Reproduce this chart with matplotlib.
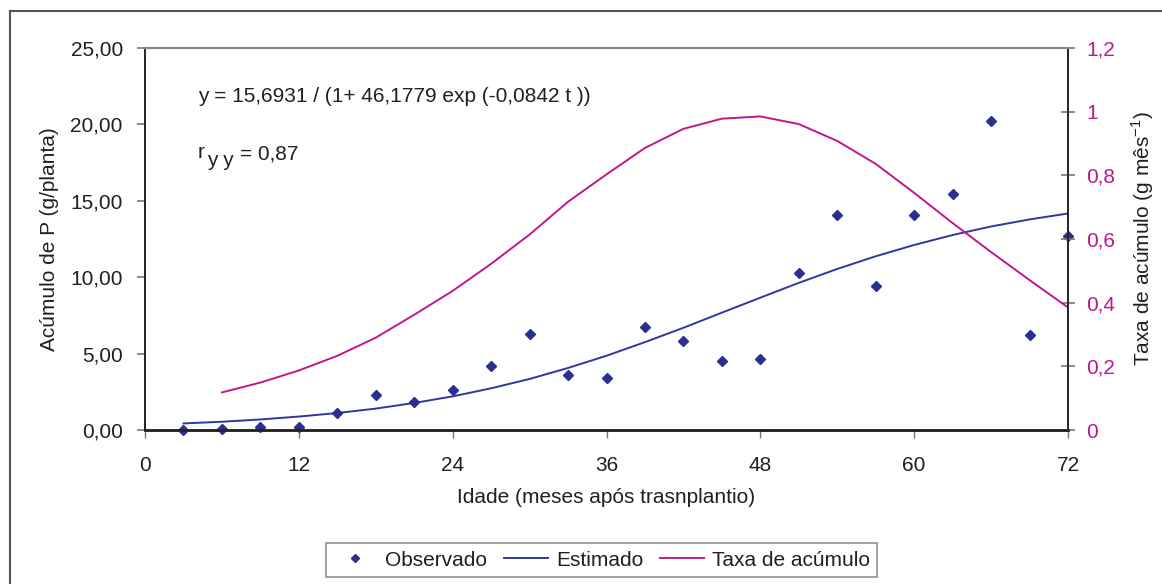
import matplotlib
matplotlib.use("Agg")
import matplotlib.pyplot as plt
from matplotlib.lines import Line2D

plt.rcParams['font.family'] = ['Liberation Sans', 'DejaVu Sans']

# Data
t_obs = [3, 6, 9, 12, 15, 18, 21, 24, 27, 30, 33, 36, 39, 42, 45, 48, 51, 54, 57, 60, 63, 66, 69, 72]
observado = [0.0, 0.05, 0.2, 0.2, 1.1, 2.3, 1.8, 2.6, 4.2, 6.3, 3.6, 3.4, 6.75, 5.8, 4.5, 4.65,
             10.3, 14.1, 9.4, 14.1, 15.45, 20.2, 6.2, 12.7]
t_est = [3, 6, 9, 12, 15, 18, 21, 24, 27, 30, 33, 36, 39, 42, 45, 48, 51, 54, 57, 60, 63, 66, 69, 72]
estimado = [0.43, 0.54, 0.69, 0.88, 1.11, 1.40, 1.77, 2.20, 2.73, 3.34, 4.06, 4.86, 5.75, 6.69,
            7.68, 8.66, 9.63, 10.54, 11.37, 12.11, 12.76, 13.32, 13.78, 14.17]
t_taxa = [6, 9, 12, 15, 18, 21, 24, 27, 30, 33, 36, 39, 42, 45, 48, 51, 54, 57, 60, 63, 66, 69, 72]
taxa = [0.118, 0.149, 0.187, 0.233, 0.290, 0.362, 0.437, 0.522, 0.614, 0.717, 0.803, 0.886, 0.946,
        0.978, 0.985, 0.961, 0.908, 0.836, 0.745, 0.650, 0.559, 0.471, 0.385]

x_ticks = [0, 12, 24, 36, 48, 60, 72]
y_left_ticks = [0, 5, 10, 15, 20, 25]
y_left_labels = ['0,00', '5,00', '10,00', '15,00', '20,00', '25,00']
y_right_ticks = [0, 0.2, 0.4, 0.6, 0.8, 1.0, 1.2]
y_right_labels = ['0', '0,2', '0,4', '0,6', '0,8', '1', '1,2']

NAVY = '#2B2F8F'
BLUE = '#3037A0'
MAGENTA = '#C0188C'
TXT = '#231F20'
FS = 15

W, H = 1162, 584
fig = plt.figure(figsize=(W / 100, H / 100), dpi=100)
ax = fig.add_axes([145 / W, 1 - 430 / H, 923 / W, 382 / H])
ax2 = ax.twinx()

ax.plot(t_est, estimado, color=BLUE, lw=1.4, zorder=3)
ax.plot(t_obs, observado, linestyle='none', marker='D', markersize=5.5, color=NAVY,
        clip_on=False, zorder=4)
ax2.plot(t_taxa, taxa, color=MAGENTA, lw=1.4)

ax.set_xlim(0, 72)
ax.set_ylim(0, 25)
ax2.set_ylim(0, 1.2)

ax.set_xticks(x_ticks)
ax.set_xticklabels([str(v) for v in x_ticks], fontsize=FS, color=TXT)
ax.set_yticks(y_left_ticks)
ax.set_yticklabels(y_left_labels, fontsize=FS, color=TXT)
ax2.set_yticks(y_right_ticks)
ax2.set_yticklabels(y_right_labels, fontsize=FS, color=MAGENTA)

ax.tick_params(axis='x', direction='out', length=6, width=1, color='#777777', pad=13)
ax.tick_params(axis='y', direction='out', length=6, width=1.2, color='#777777', pad=10)
ax2.tick_params(axis='y', direction='inout', length=10, width=1.2, color='#777777', pad=8)

for a in (ax, ax2):
    a.spines['top'].set_color('#888888')
    a.spines['top'].set_linewidth(1.5)
    a.spines['left'].set_color('#222222')
    a.spines['right'].set_color('#222222')
    a.spines['bottom'].set_color('#222222')
    a.spines['bottom'].set_linewidth(1.8)
    a.spines['left'].set_linewidth(1.2)
    a.spines['right'].set_linewidth(1.2)

ax.set_xlabel('Idade (meses após trasnplantio)', fontsize=FS, color=TXT, labelpad=9)
ax.set_ylabel('Acúmulo de P (g/planta)', fontsize=FS, color=TXT, labelpad=8)
ax2.set_ylabel('Taxa de acúmulo (g mês$^{\\mathregular{-1}}$)', fontsize=FS, color=TXT, labelpad=10)

ax.text(198 / W, 1 - 97 / H, 'y = 15,6931 / (1+ 46,1779 exp (-0,0842 t ))', transform=fig.transFigure,
        fontsize=FS, color=TXT, va='center', ha='left')
ax.text(198 / W, 1 - 153 / H, 'r', transform=fig.transFigure, fontsize=FS, color=TXT,
        va='center', ha='left')
ax.text(207 / W, 1 - 161 / H, 'y y', transform=fig.transFigure, fontsize=FS, color=TXT,
        va='center', ha='left')
ax.text(240 / W, 1 - 154 / H, '= 0,87', transform=fig.transFigure, fontsize=FS, color=TXT,
        va='center', ha='left')

handles = [
    Line2D([], [], linestyle='none', marker='D', markersize=4.5, color=NAVY),
    Line2D([], [], color=BLUE, lw=1.4),
    Line2D([], [], color=MAGENTA, lw=1.4),
]
leg = fig.legend(handles, ['Observado', 'Estimado', 'Taxa de acúmulo'], ncol=3,
                 loc='center', bbox_to_anchor=(601.5 / W, 1 - 560 / H), fontsize=FS,
                 frameon=True, fancybox=False, handlelength=2.1, columnspacing=0.8,
                 handletextpad=0.4, borderpad=0.35)
leg.get_frame().set_edgecolor('#777777')
leg.get_frame().set_linewidth(1.2)
for txt in leg.get_texts():
    txt.set_color(TXT)

# outer frame
fig.add_artist(Line2D([10 / W, 10 / W], [0, 1 - 11 / H], transform=fig.transFigure,
                      color='#555555', lw=1.5))
fig.add_artist(Line2D([10 / W, 1], [1 - 11 / H, 1 - 11 / H], transform=fig.transFigure,
                      color='#555555', lw=1.5))

fig.savefig('out.png', dpi=100)
